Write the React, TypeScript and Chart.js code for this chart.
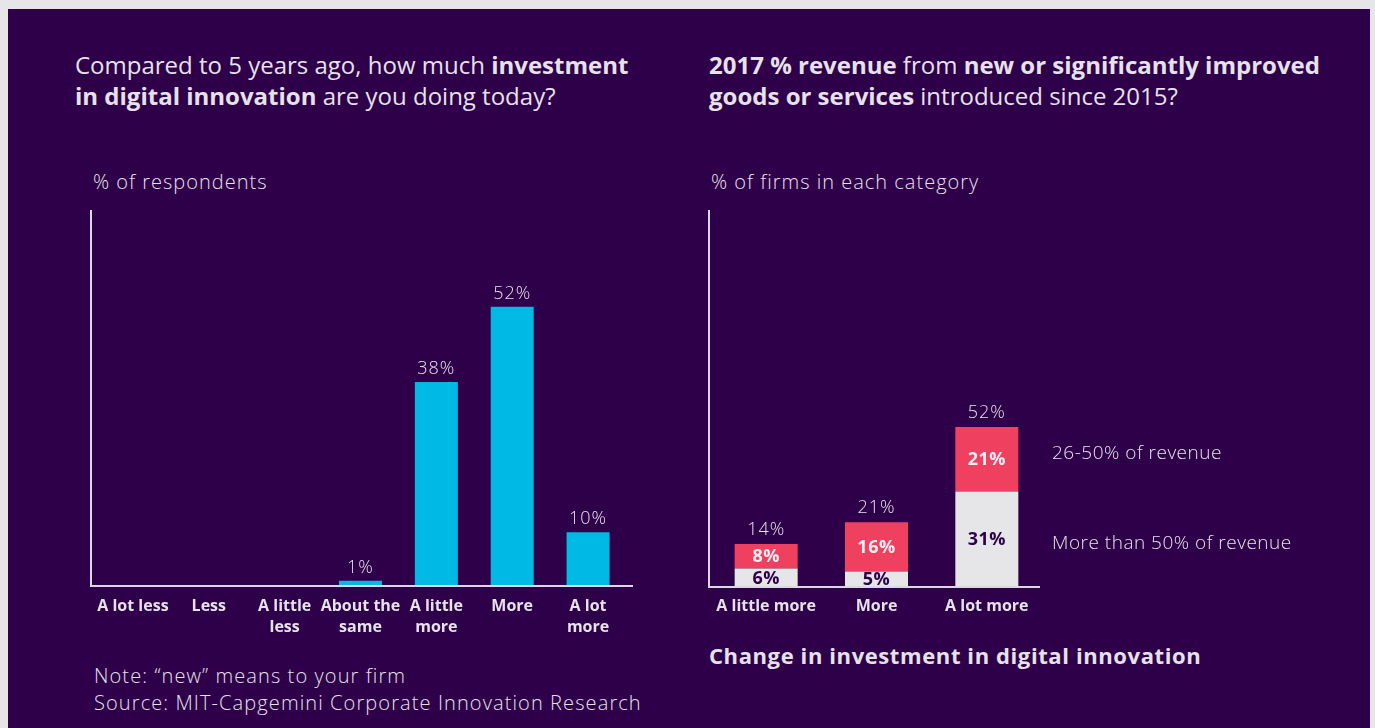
import React, { useEffect, useRef } from "react";
import { Chart, registerables } from "chart.js";
Chart.register(...registerables);

const investCategories = [["A lot less"], ["Less"], ["A little", "less"], ["About the", "same"], ["A little", "more"], ["More"], ["A lot", "more"]];
const investValues = [0, 0, 0, 1, 38, 52, 10];
const revenueCategories = ["A little more", "More", "A lot more"];
const over50Values = [6, 5, 31];
const from26to50Values = [8, 16, 21];
const revenueTotals = [14, 21, 52];
const seriesNames = ["More than 50% of revenue", "26-50% of revenue"];

const FONT = "'Open Sans', Lato, sans-serif";
const BG = "#2e0049";
const TEXT = "#e6e2ea";
const AXIS = "#dcd8e2";
const CYAN = "#00b9e5";
const RED = "#f04060";
const LIGHT = "#e6e6e8";

const axisLines = (extL: number, extR: number) => ({
  id: "axisLines",
  afterDatasetsDraw(chart: any) {
    const { ctx, chartArea: a } = chart;
    ctx.save();
    ctx.strokeStyle = AXIS;
    ctx.lineWidth = 2;
    ctx.beginPath();
    ctx.moveTo(a.left - extL, a.top);
    ctx.lineTo(a.left - extL, a.bottom);
    ctx.lineTo(a.right + extR, a.bottom);
    ctx.stroke();
    ctx.restore();
  },
});

function InvestChart() {
  const ref = useRef<HTMLCanvasElement>(null);
  useEffect(() => {
    const labelsPlugin = {
      id: "investLabels",
      afterDatasetsDraw(chart: any) {
        const { ctx } = chart;
        const meta = chart.getDatasetMeta(0);
        ctx.save();
        ctx.font = `300 18px ${FONT}`;
        (ctx as any).letterSpacing = "1px";
        ctx.fillStyle = TEXT;
        ctx.textAlign = "center";
        ctx.textBaseline = "alphabetic";
        meta.data.forEach((bar: any, i: number) => {
          const v = investValues[i];
          if (!v) return;
          ctx.fillText(`${v}%`, bar.x, bar.y - 8);
        });
        ctx.restore();
      },
    };
    const chart = new Chart(ref.current!, {
      type: "bar",
      data: {
        labels: investCategories as any,
        datasets: [
          {
            data: investValues,
            backgroundColor: CYAN,
            barPercentage: 0.567,
            categoryPercentage: 1,
          },
        ],
      },
      options: {
        animation: false,
        responsive: false,
        layout: { padding: { left: 35, right: 34, top: 20, bottom: 0 } },
        plugins: { legend: { display: false }, tooltip: { enabled: false } },
        scales: {
          x: {
            grid: { display: false, drawTicks: false },
            border: { display: false },
            ticks: {
              color: TEXT,
              font: { family: FONT, size: 16, weight: "bold", lineHeight: 1.3 },
              padding: 10,
              autoSkip: false,
              maxRotation: 0,
            },
            afterFit: (s: any) => {
              s.height = 64;
            },
          },
          y: { display: false, min: 0, max: 70 },
        },
      },
      plugins: [axisLines(4, 7), labelsPlugin],
    });
    return () => chart.destroy();
  }, []);
  return (
    <canvas
      ref={ref}
      width={600}
      height={460}
      style={{ position: "absolute", left: 60, top: 190, width: 600, height: 460 }}
    />
  );
}

function RevenueChart() {
  const ref = useRef<HTMLCanvasElement>(null);
  useEffect(() => {
    const labelsPlugin = {
      id: "revenueLabels",
      afterDatasetsDraw(chart: any) {
        const { ctx } = chart;
        const m0 = chart.getDatasetMeta(0);
        const m1 = chart.getDatasetMeta(1);
        ctx.save();
        ctx.textAlign = "center";
        ctx.textBaseline = "middle";
        ctx.font = `bold 18px ${FONT}`;
        (ctx as any).letterSpacing = "0.5px";
        m0.data.forEach((bar: any, i: number) => {
          ctx.fillStyle = BG;
          ctx.fillText(`${over50Values[i]}%`, bar.x, (bar.y + bar.base) / 2 + 1);
        });
        m1.data.forEach((bar: any, i: number) => {
          ctx.fillStyle = "#f4eef2";
          ctx.fillText(`${from26to50Values[i]}%`, bar.x, (bar.y + bar.base) / 2 + 1);
        });
        ctx.font = `300 18px ${FONT}`;
        (ctx as any).letterSpacing = "1px";
        ctx.fillStyle = TEXT;
        ctx.textBaseline = "alphabetic";
        m1.data.forEach((bar: any, i: number) => {
          ctx.fillText(`${revenueTotals[i]}%`, bar.x, bar.y - 9);
        });
        // series labels beside last bar
        const last = m1.data.length - 1;
        const b1 = m1.data[last];
        const b0 = m0.data[last];
        const xText = chart.chartArea.right + 10;
        ctx.textAlign = "left";
        ctx.textBaseline = "middle";
        ctx.font = `300 19px ${FONT}`;
        (ctx as any).letterSpacing = "0.5px";
        ctx.fillText(seriesNames[1], xText, (b1.y + b1.base) / 2 - 6);
        ctx.fillText(seriesNames[0], xText, (b0.y + b0.base) / 2 + 4);
        ctx.restore();
      },
    };
    const chart = new Chart(ref.current!, {
      type: "bar",
      data: {
        labels: revenueCategories,
        datasets: [
          {
            label: seriesNames[0],
            data: over50Values,
            backgroundColor: LIGHT,
            barPercentage: 0.571,
            categoryPercentage: 1,
          },
          {
            label: seriesNames[1],
            data: from26to50Values,
            backgroundColor: RED,
            barPercentage: 0.571,
            categoryPercentage: 1,
          },
        ],
      },
      options: {
        animation: false,
        responsive: false,
        layout: { padding: { left: 31, right: 298, top: 20, bottom: 0 } },
        plugins: { legend: { display: false }, tooltip: { enabled: false } },
        scales: {
          x: {
            stacked: true,
            grid: { display: false, drawTicks: false },
            border: { display: false },
            ticks: {
              color: TEXT,
              font: { family: FONT, size: 16, weight: "bold", lineHeight: 1.3 },
              padding: 9,
              autoSkip: false,
              maxRotation: 0,
            },
            afterFit: (s: any) => {
              s.height = 43;
            },
          },
          y: { stacked: true, display: false, min: 0, max: 122.5 },
        },
      },
      plugins: [axisLines(2, -2), labelsPlugin],
    });
    return () => chart.destroy();
  }, []);
  return (
    <canvas
      ref={ref}
      width={660}
      height={440}
      style={{ position: "absolute", left: 680, top: 190, width: 660, height: 440 }}
    />
  );
}

const textBase: React.CSSProperties = {
  position: "absolute",
  color: TEXT,
  fontFamily: FONT,
  whiteSpace: "nowrap",
  margin: 0,
};

export default function App() {
  return (
    <div style={{ position: "absolute", left: 0, top: 0, width: 1375, height: 728, background: "#e6e6e8", overflow: "hidden" }}>
      <div style={{ position: "absolute", left: 8, top: 9, width: 1362, height: 719, background: BG }} />
      <div style={{ ...textBase, left: 75, top: 49, fontSize: 24, lineHeight: "31px", fontWeight: 400 }}>
        Compared to 5 years ago, how much <b>investment</b>
        <br />
        <b>in digital innovation</b> are you doing today?
      </div>
      <div style={{ ...textBase, left: 709, top: 49, fontSize: 24, lineHeight: "31px", fontWeight: 400 }}>
        <b>2017 % revenue</b> from <b>new or significantly improved</b>
        <br />
        <b>goods or services</b> introduced since 2015?
      </div>
      <div style={{ ...textBase, left: 93, top: 168, fontSize: 20, lineHeight: "28px", fontWeight: 300, letterSpacing: "1px" }}>% of respondents</div>
      <div style={{ ...textBase, left: 711, top: 168, fontSize: 20, lineHeight: "28px", fontWeight: 300, letterSpacing: "1px" }}>% of firms in each category</div>
      <InvestChart />
      <RevenueChart />
      <div style={{ ...textBase, left: 709, top: 640, fontSize: 22, lineHeight: "30px", fontWeight: 700, letterSpacing: "0.6px" }}>
        Change in investment in digital innovation
      </div>
      <div style={{ ...textBase, left: 94, top: 662, fontSize: 20, lineHeight: "27px", fontWeight: 300, letterSpacing: "1.1px" }}>
        Note: “new” means to your firm
        <br />
        Source: MIT-Capgemini Corporate Innovation Research
      </div>
    </div>
  );
}
